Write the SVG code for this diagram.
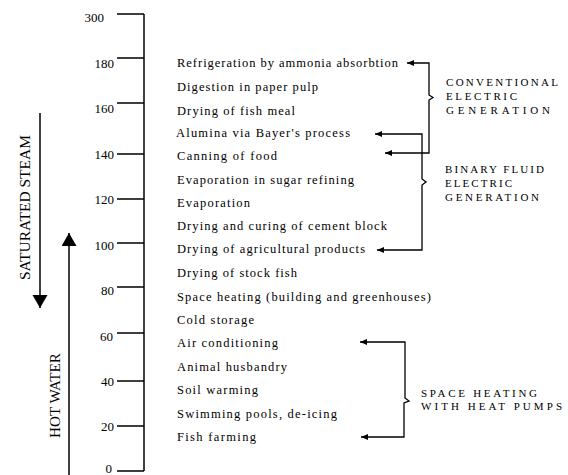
<svg xmlns="http://www.w3.org/2000/svg" width="568" height="475" viewBox="0 0 568 475">
<style>
  .item { font-family: "Liberation Serif", serif; font-size: 12.5px; fill: #000; }
  .num { font-family: "Liberation Serif", serif; font-size: 13px; fill: #000; text-anchor: end; }
  .cap { font-family: "Liberation Serif", serif; font-size: 11px; fill: #000; }
  .side { font-family: "Liberation Serif", serif; font-size: 14px; fill: #000; text-anchor: middle; }
  .ax { stroke: #000; stroke-width: 1.5; fill: none; }
  .conn { stroke: #000; stroke-width: 1.3; fill: none; marker-start: url(#ah); marker-end: url(#ah); }
</style>
<defs>
  <marker id="ah" markerUnits="userSpaceOnUse" markerWidth="8" markerHeight="7" refX="7" refY="3" orient="auto-start-reverse">
    <path d="M0,0 L7,3 L0,6 z" fill="#000"/>
  </marker>
  <marker id="big" markerUnits="userSpaceOnUse" markerWidth="16" markerHeight="16" refX="13" refY="7.5" orient="auto">
    <path d="M0,0 L13,7.5 L0,15 z" fill="#000"/>
  </marker>
</defs>
<rect width="568" height="475" fill="#fff"/>

<g id="axis">
  <line class="ax" x1="144" y1="14" x2="144" y2="471"/>
  <path class="ax" d="M117,14H144 M117,58H144 M117,103H144 M117,154H144 M117,199H144 M117,243H144 M117,287H144 M117,333H144 M117,381H144 M117,426H144 M117,471H144"/>
  <text class="num" x="104" y="22">300</text>
  <text class="num" x="114" y="68">180</text>
  <text class="num" x="114" y="113">160</text>
  <text class="num" x="114" y="159">140</text>
  <text class="num" x="114" y="204">120</text>
  <text class="num" x="114" y="250">100</text>
  <text class="num" x="114" y="295">80</text>
  <text class="num" x="113" y="341">60</text>
  <text class="num" x="114" y="386">40</text>
  <text class="num" x="114" y="431">20</text>
  <text class="num" x="112" y="473">0</text>
</g>

<g id="saturated-steam">
  <line x1="40" y1="113" x2="40" y2="308" stroke="#000" stroke-width="1.5" marker-end="url(#big)"/>
  <text class="side" transform="translate(30,207.5) rotate(-90)" textLength="145" lengthAdjust="spacingAndGlyphs">SATURATED STEAM</text>
</g>
<g id="hot-water">
  <line x1="69" y1="475" x2="69" y2="233" stroke="#000" stroke-width="1.5" marker-end="url(#big)"/>
  <text class="side" transform="translate(60,395.5) rotate(-90)" textLength="85" lengthAdjust="spacingAndGlyphs">HOT WATER</text>
</g>

<g id="items">
  <text class="item" x="177" y="67" textLength="221">Refrigeration by ammonia absorbtion</text>
  <text class="item" x="177" y="91" textLength="141">Digestion in paper pulp</text>
  <text class="item" x="177" y="115" textLength="118">Drying of fish meal</text>
  <text class="item" x="176" y="137" textLength="174">Alumina via Bayer's process</text>
  <text class="item" x="177" y="160" textLength="100">Canning of food</text>
  <text class="item" x="177" y="184" textLength="177">Evaporation in sugar refining</text>
  <text class="item" x="177" y="207" textLength="73">Evaporation</text>
  <text class="item" x="177" y="230" textLength="210">Drying and curing of cement block</text>
  <text class="item" x="177" y="253" textLength="188">Drying of agricultural products</text>
  <text class="item" x="177" y="277" textLength="120">Drying of stock fish</text>
  <text class="item" x="177" y="301" textLength="254">Space heating (building and greenhouses)</text>
  <text class="item" x="177" y="324" textLength="77">Cold storage</text>
  <text class="item" x="177" y="347" textLength="101">Air conditioning</text>
  <text class="item" x="177" y="371" textLength="110">Animal husbandry</text>
  <text class="item" x="177" y="394" textLength="81">Soil warming</text>
  <text class="item" x="177" y="418" textLength="160">Swimming pools, de-icing</text>
  <text class="item" x="177" y="441" textLength="79">Fish farming</text>
</g>

<g id="connectors">
  <path class="conn" d="M407,63 H429 V95 L433,97.5 L429,100 V153 H385"/>
  <path class="conn" d="M375,134 H422 V179 L426,182 L422,185 V250 H377"/>
  <path class="conn" d="M360,342 H405 V398 L409,401 L404,403 V437 H361"/>
</g>

<g id="conventional">
  <text class="cap" x="446" y="86" textLength="112">CONVENTIONAL</text>
  <text class="cap" x="446" y="100" textLength="71">ELECTRIC</text>
  <text class="cap" x="446" y="114" textLength="104">GENERATION</text>
</g>
<g id="binary">
  <text class="cap" x="445" y="173" textLength="99">BINARY FLUID</text>
  <text class="cap" x="445" y="187" textLength="67">ELECTRIC</text>
  <text class="cap" x="445" y="201" textLength="94">GENERATION</text>
</g>
<g id="space-heating">
  <text class="cap" x="421" y="397" textLength="116">SPACE HEATING</text>
  <text class="cap" x="421" y="410" textLength="141">WITH HEAT PUMPS</text>
</g>
</svg>
